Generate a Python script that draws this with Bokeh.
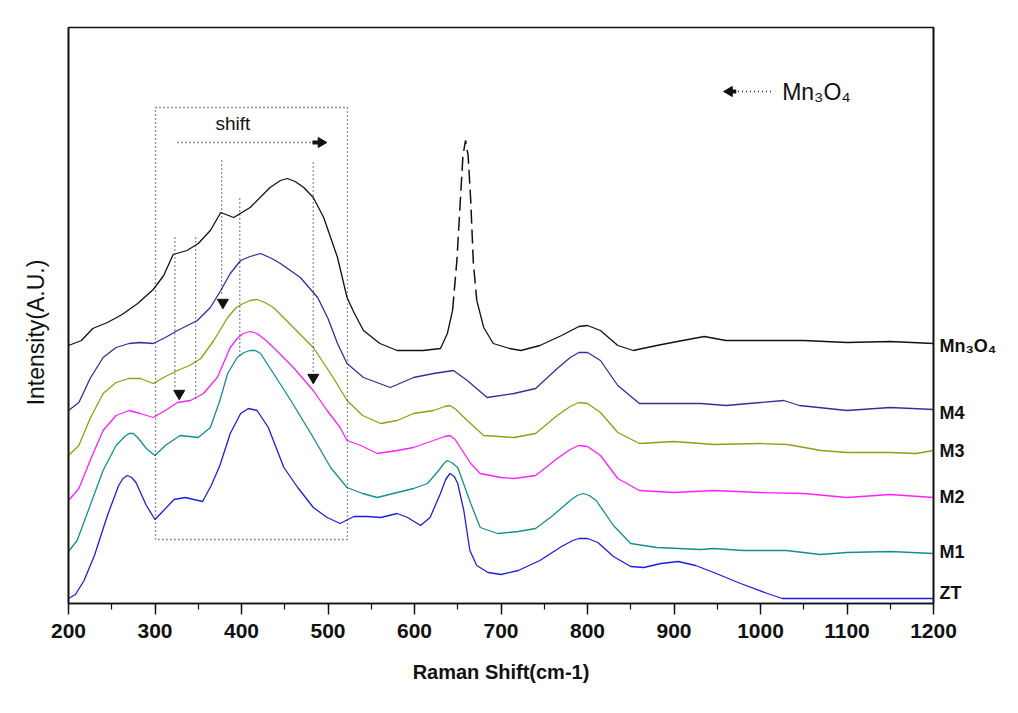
import math
from bokeh.plotting import figure
from bokeh.models import Range1d, SingleIntervalTicker, FixedTicker, LinearAxis, Label
from bokeh.embed import file_html
from bokeh.resources import INLINE

FONT = "Liberation Sans"

# ---------------- data (intensity in arbitrary units) -------------
zt_w = [200, 208, 218, 230, 245, 258, 263, 268, 273, 278, 290, 300, 310, 322, 335, 345, 355, 365,
        375, 387, 399, 408, 418, 431, 440, 449, 465, 483, 499, 514, 530, 545, 561, 580, 592, 607,
        618, 630, 636, 641, 646, 650, 657, 664, 672, 685, 700, 720, 745, 770, 783, 790, 800, 812,
        830, 850, 865, 885, 905, 925, 946, 977, 1008, 1025, 1200]
zt_i = [5, 9, 23, 48, 88, 118, 125, 128, 126, 121, 98, 84, 93, 104, 106, 104, 102, 118,
        138, 170, 190, 195, 193, 176, 156, 136, 116, 96, 86, 80, 87, 87, 86, 90, 86, 78,
        86, 110, 124, 130, 127, 120, 93, 53, 38, 31, 29, 33, 43, 57, 63, 65, 65, 61,
        47, 37, 36, 40, 42, 38, 31, 20, 10, 5, 5]

m1_w = [200, 210, 225, 240, 255, 265, 270, 275, 280, 290, 300, 312, 329, 340, 350, 364, 375, 384,
        395, 403, 410, 416, 422, 437, 457, 483, 503, 522, 540, 557, 580, 599, 615, 628, 634, 638,
        643, 650, 665, 676, 696, 720, 740, 760, 780, 788, 795, 802, 810, 830, 850, 880, 931, 946,
        980, 1030, 1069, 1100, 1150, 1200]
m1_i = [52, 63, 98, 133, 158, 167, 170, 170, 166, 155, 148, 158, 168, 167, 166, 176, 203, 230,
        246, 251, 253, 253, 250, 230, 203, 166, 136, 116, 110, 106, 111, 115, 120, 133, 140, 143,
        141, 136, 100, 76, 70, 72, 75, 88, 103, 108, 110, 108, 103, 78, 60, 56, 54, 55,
        53, 53, 49, 51, 52, 50]

m2_w = [200, 212, 225, 240, 255, 270, 283, 298, 312, 326, 341, 356, 372, 387, 395, 402, 410, 418,
        427, 437, 460, 483, 499, 514, 522, 538, 557, 580, 599, 622, 635, 641, 647, 653, 665, 676,
        700, 715, 740, 765, 780, 790, 800, 815, 835, 860, 900, 946, 1000, 1050, 1100, 1150, 1200]
m2_i = [103, 115, 143, 173, 188, 193, 190, 186, 193, 201, 203, 210, 226, 256, 265, 270, 272, 270,
        264, 256, 236, 213, 193, 176, 163, 158, 150, 153, 156, 163, 167, 168, 164, 156, 140, 130,
        126, 125, 128, 145, 154, 158, 157, 148, 125, 113, 111, 113, 111, 110, 106, 109, 106]

m3_w = [200, 212, 225, 240, 255, 270, 283, 298, 312, 326, 340, 353, 368, 384, 394, 402, 410, 418,
        427, 437, 460, 483, 506, 522, 540, 561, 580, 599, 622, 635, 641, 648, 661, 680, 715, 740,
        765, 780, 790, 800, 815, 835, 860, 900, 946, 1000, 1031, 1070, 1100, 1150, 1180, 1200]
m3_i = [148, 158, 185, 210, 221, 225, 225, 220, 227, 233, 238, 245, 263, 286, 296, 300, 303, 304,
        301, 296, 276, 256, 226, 203, 188, 180, 183, 190, 193, 197, 198, 194, 183, 168, 166, 170,
        188, 197, 201, 200, 191, 171, 160, 162, 159, 160, 159, 153, 151, 151, 150, 153]

m4_w = [200, 212, 225, 240, 255, 270, 283, 298, 312, 326, 349, 364, 376, 387, 399, 410, 422, 435,
        445, 468, 488, 500, 511, 522, 541, 572, 599, 622, 645, 661, 684, 715, 740, 765, 780, 790,
        800, 815, 835, 860, 900, 931, 960, 1000, 1027, 1045, 1100, 1150, 1200]
m4_i = [193, 201, 225, 246, 256, 260, 261, 260, 266, 273, 283, 296, 313, 330, 343, 347, 350, 345,
        340, 326, 306, 285, 260, 240, 226, 216, 226, 230, 233, 223, 206, 210, 215, 235, 246, 251,
        251, 243, 218, 200, 200, 200, 198, 201, 203, 198, 193, 196, 194]

mn_w = [200, 215, 228, 245, 262, 280, 298, 310, 321, 337, 350, 364, 376, 391, 410, 433, 445, 453,
        462, 472, 483, 495, 511, 522, 530, 541, 560, 580, 610, 630, 638, 644, 649, 653, 656, 659,
        662, 665, 668, 672, 680, 691, 710, 723, 745, 770, 790, 800, 815, 835, 853, 880, 910, 935,
        960, 1000, 1050, 1100, 1150, 1200]
mn_i = [258, 263, 275, 281, 289, 300, 314, 328, 349, 353, 360, 373, 391, 386, 396, 416, 423, 425,
        422, 416, 406, 386, 346, 306, 291, 273, 260, 253, 253, 255, 270, 293, 343, 403, 448, 463,
        448, 403, 341, 303, 276, 260, 255, 253, 258, 268, 277, 278, 273, 258, 253, 258, 263, 267,
        263, 263, 263, 261, 262, 260]
# span of the Mn3O4 band that the original draws broken (dashed)
mn_dash_from, mn_dash_to = 644, 672

series_names = ["Mn\u2083O\u2084", "M4", "M3", "M2", "M1", "ZT"]
series_w = [mn_w, m4_w, m3_w, m2_w, m1_w, zt_w]
series_i = [mn_i, m4_i, m3_i, m2_i, m1_i, zt_i]
series_colors = ["#111111", "#30309A", "#9A9A10", "#FF20FF", "#129090", "#1E1EE0"]
label_i = [258, 191, 153, 107, 52, 11]

y_title = "Intensity(A.U.)"
y_title_pos = 271

# annotation geometry (data units)
box_w = [300.6, 522.5]
box_i = [64, 496]
vline_w = [323, 347, 377, 398, 483]
vline_top = [366, 366, 443, 405, 441]
vline_bot = [216, 205, 308, 247, 232]
mark_w = [328, 378.5, 483]
mark_i = [210, 301, 226]
shift_w = [326, 494]
shift_i = 461
legend_w = [964, 1013]
legend_i = 512

# ---------------- figure ----------------
p = figure(width=1010, height=705, output_backend="svg", toolbar_location=None,
           x_range=Range1d(200, 1200), y_range=Range1d(0, 576),
           min_border_left=68, min_border_right=77, min_border_top=27, min_border_bottom=102)
p.background_fill_color = "white"
p.border_fill_color = "white"
p.outline_line_color = "#111111"
p.outline_line_width = 1.6
p.xgrid.visible = False
p.ygrid.visible = False

ax = p.xaxis[0]
ax.ticker = SingleIntervalTicker(interval=100, num_minor_ticks=2)
ax.axis_line_color = "#111111"
ax.axis_line_width = 1.6
ax.major_tick_line_color = "#111111"
ax.major_tick_line_width = 1.4
ax.minor_tick_line_color = "#111111"
ax.minor_tick_line_width = 1.2
ax.major_tick_in = 0
ax.major_tick_out = 11
ax.minor_tick_in = 0
ax.minor_tick_out = 6
ax.major_label_text_font = FONT
ax.major_label_text_font_size = "21px"
ax.major_label_text_font_style = "bold"
ax.major_label_text_color = "#111111"
ax.major_label_standoff = 9
ax.axis_label = "Raman Shift(cm-1)"
ax.axis_label_text_font = FONT
ax.axis_label_text_font_size = "20px"
ax.axis_label_text_font_style = "bold"
ax.axis_label_text_color = "#111111"
ax.axis_label_standoff = 20

# left axis: only carries the rotated title at its place
ly = p.yaxis[0]
ly.ticker = FixedTicker(ticks=[y_title_pos])
ly.major_label_overrides = {y_title_pos: y_title}
ly.major_label_orientation = "vertical"
ly.major_tick_out = 0
ly.major_tick_in = 0
ly.minor_tick_line_color = None
ly.major_tick_line_color = None
ly.axis_line_color = "#111111"
ly.axis_line_width = 1.6
ly.major_label_text_font = FONT
ly.major_label_text_font_size = "23px"
ly.major_label_text_color = "#111111"
ly.major_label_standoff = 20

# right axis: series names at the end of each trace
ry = LinearAxis(ticker=FixedTicker(ticks=label_i),
                major_label_overrides={k: v for k, v in zip(label_i, series_names)})
ry.major_tick_out = 0
ry.major_tick_in = 0
ry.major_tick_line_color = None
ry.minor_tick_line_color = None
ry.axis_line_color = "#111111"
ry.axis_line_width = 1.6
ry.major_label_text_font = FONT
ry.major_label_text_font_size = "18px"
ry.major_label_text_font_style = "bold"
ry.major_label_text_color = "#111111"
ry.major_label_standoff = 6
p.add_layout(ry, "right")

# curves
for name, w, i, c in zip(series_names, series_w, series_i, series_colors):
    if name.startswith("Mn"):
        a = [k for k, x in enumerate(w) if x <= mn_dash_from]
        b = [k for k, x in enumerate(w) if mn_dash_from <= x <= mn_dash_to]
        d = [k for k, x in enumerate(w) if x >= mn_dash_to]
        p.line([w[k] for k in a], [i[k] for k in a], line_color=c, line_width=1.3)
        p.line([w[k] for k in b], [i[k] for k in b], line_color=c, line_width=1.5,
               line_dash="14 6")
        p.line([w[k] for k in d], [i[k] for k in d], line_color=c, line_width=1.3)
    else:
        p.line(w, i, line_color=c, line_width=1.3)

dot = dict(line_color="#222222", line_width=1.3, line_dash="1 3")

# dotted box
p.line([box_w[0], box_w[1], box_w[1], box_w[0], box_w[0]],
       [box_i[1], box_i[1], box_i[0], box_i[0], box_i[1]], **dot)

# vertical dotted guides
p.segment(x0=vline_w, y0=vline_top, x1=vline_w, y1=vline_bot, **dot)

# marker arrows
p.scatter(mark_w, mark_i, marker="inverted_triangle", size=11, color="#111111")

# shift arrow
p.line(shift_w, [shift_i, shift_i], **dot)
p.segment(x0=[shift_w[1] - 12], y0=[shift_i], x1=[shift_w[1] - 5], y1=[shift_i],
          line_color="#111111", line_width=4)
p.scatter([shift_w[1] - 2], [shift_i], marker="triangle", angle=-math.pi / 2, size=10,
          color="#111111")
p.add_layout(Label(x=390, y=480, text="shift", text_font=FONT, text_font_size="19px",
                   text_color="#111111", text_align="center", text_baseline="middle"))

# legend arrow at top right
p.scatter([legend_w[0]], [legend_i], marker="triangle", angle=math.pi / 2, size=10,
          color="#111111")
p.segment(x0=[legend_w[0] + 2], y0=[legend_i], x1=[legend_w[0] + 8], y1=[legend_i],
          line_color="#111111", line_width=4)
p.line([legend_w[0] + 10, legend_w[1]], [legend_i, legend_i], **dot)
p.add_layout(Label(x=legend_w[1] + 12, y=legend_i, text="Mn\u2083O\u2084", text_font=FONT,
                   text_font_size="23px", text_color="#111111", text_align="left",
                   text_baseline="middle"))

open("out.html", "w").write(file_html(p, INLINE))
